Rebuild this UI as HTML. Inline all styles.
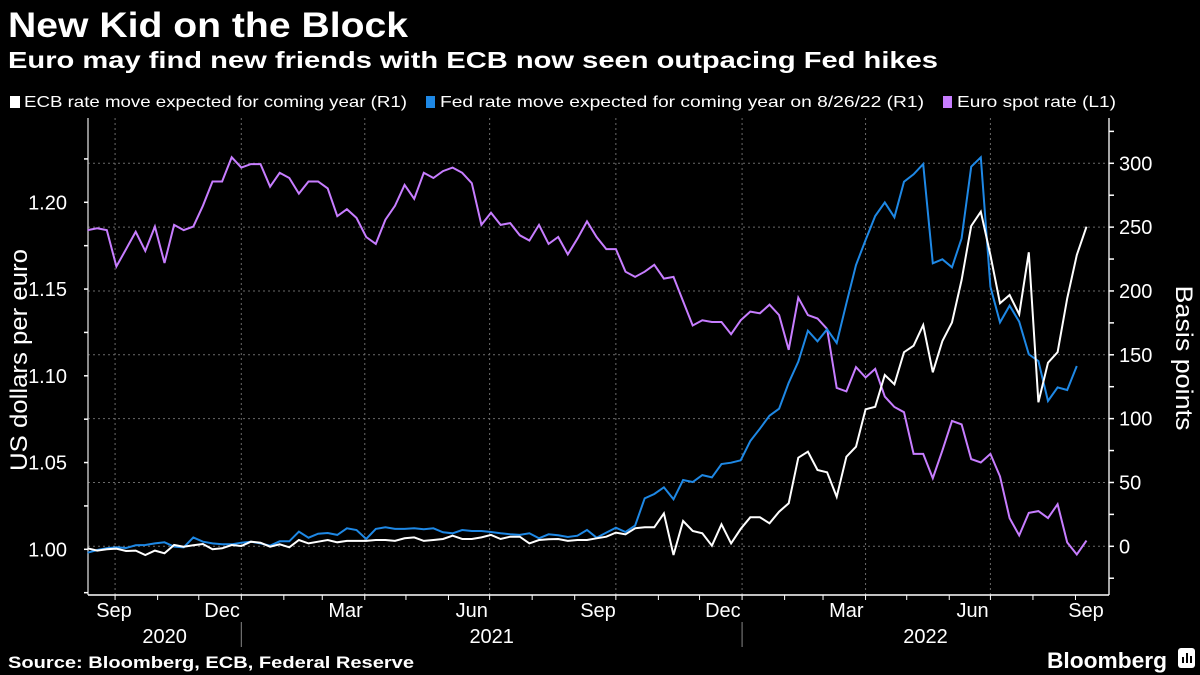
<!DOCTYPE html>
<html><head><meta charset="utf-8"><style>
html,body{margin:0;padding:0;background:#000;}
svg{display:block;font-family:"Liberation Sans",sans-serif;}
</style></head><body>
<svg id="chart" width="1200" height="675" viewBox="0 0 1200 675" xmlns="http://www.w3.org/2000/svg">
<rect width="1200" height="675" fill="#000"/>
<text x="8" y="37" fill="#fff" font-size="35" font-weight="bold" textLength="400" lengthAdjust="spacingAndGlyphs">New Kid on the Block</text>
<text x="8" y="68" fill="#fff" font-size="23" font-weight="bold" textLength="930" lengthAdjust="spacingAndGlyphs">Euro may find new friends with ECB now seen outpacing Fed hikes</text>
<g>
<g><rect x="10" y="96" width="10" height="12" fill="#fff"/><text x="24" y="107" fill="#fff" font-size="16" textLength="383" lengthAdjust="spacingAndGlyphs">ECB rate move expected for coming year (R1)</text></g>
<g><rect x="426" y="96" width="9" height="12" fill="#1e88e5"/><text x="440" y="107" fill="#fff" font-size="16" textLength="484" lengthAdjust="spacingAndGlyphs">Fed rate move expected for coming year on 8/26/22 (R1)</text></g>
<g><rect x="943" y="96" width="9" height="12" fill="#c77dff"/><text x="957" y="107" fill="#fff" font-size="16" textLength="159" lengthAdjust="spacingAndGlyphs">Euro spot rate (L1)</text></g>
</g>
<g id="grid"></g>
<g id="axes"></g>
<g id="series"></g>
<text transform="translate(27,360) rotate(-90)" text-anchor="middle" fill="#fff" font-size="24" textLength="222" lengthAdjust="spacingAndGlyphs">US dollars per euro</text>
<text transform="translate(1176,358) rotate(90)" text-anchor="middle" fill="#fff" font-size="24" textLength="145" lengthAdjust="spacingAndGlyphs">Basis points</text>
<text x="8" y="668" fill="#fff" font-size="17" font-weight="bold" textLength="406" lengthAdjust="spacingAndGlyphs">Source: Bloomberg, ECB, Federal Reserve</text>
<text x="1047" y="668" fill="#fff" font-size="22" font-weight="bold" textLength="120" lengthAdjust="spacingAndGlyphs">Bloomberg</text>
<g><rect x="1178" y="648" width="17" height="20" rx="3" fill="#fff"/><rect x="1182" y="657" width="2" height="6" fill="#000"/><rect x="1186" y="653" width="2" height="10" fill="#000"/><rect x="1190" y="656" width="2" height="7" fill="#000"/></g>
</svg>
<script>
const startDate = "2020-09-11";
const euroSpot = [1.184,1.185,1.184,1.163,1.173,1.183,1.172,1.186,1.165,1.187,1.184,1.186,1.198,1.212,1.212,1.226,1.220,1.222,1.222,1.209,1.217,1.214,1.205,1.212,1.212,1.208,1.192,
1.196,1.191,1.180,1.176,1.190,1.198,1.210,1.202,1.217,1.214,1.218,1.220,1.217,1.211,1.187,1.194,1.187,1.188,1.181,1.178,1.187,1.176,1.180,1.170,1.179,1.189,1.180,
1.173,1.173,1.160,1.157,1.160,1.164,1.156,1.157,1.143,1.129,1.132,1.131,1.131,1.124,1.132,1.137,1.136,1.141,1.135,1.115,1.145,1.135,1.133,1.127,1.093,1.091,
1.105,1.099,1.104,1.088,1.082,1.079,1.055,1.055,1.041,1.057,1.074,1.072,1.052,1.050,1.055,1.042,1.018,1.008,1.021,1.022,1.018,1.026,1.004,0.997,1.005];
const fedMove = [-5,-2.9,-1.6,-0.8,-1.3,0.8,1,2.3,3.1,-0.3,-0.8,7,3.6,2.3,1.6,1.6,2.8,3.6,2.3,0.5,3.9,3.9,11.4,6.7,9.9,10.4,8.9,
14.1,12.8,5.7,13.6,14.9,13.6,13.6,14.1,13.3,14.1,11,10.2,12.8,12,12,11.2,10.2,9.4,8.9,10.2,6.3,9.4,8.6,7.3,8.3,12.8,6.7,
10.7,14.6,11.2,16.2,37.6,41,46.2,36.8,51.9,50.4,55.8,54,64.5,65.5,67.4,82.5,92.1,102.3,107.8,128.1,144.6,168.9,160.6,170,159.2,190.3,
220.3,239.9,258.7,269.4,257.7,285.6,291.4,299.4,221.7,224.8,218.5,241.2,297.3,304.7,203.3,175.4,188.5,175.9,150.4,145.1,113.8,124.5,122.4,141.2];
const ecbMove = [-1.6,-3.4,-2.3,-1.8,-3.7,-3.4,-6.8,-3.4,-5.5,1,-0.3,0.8,1.8,-2.3,-1.6,1,0.2,3.6,2.8,-0.3,1.6,-0.8,4.9,2.3,3.6,4.9,3.1,
4.2,4.2,4.2,4.9,4.9,4.2,6.3,7,4.2,4.9,5.7,8.3,5.7,5.7,7,8.9,5.7,7.5,7.5,2.3,4.9,5.5,5.7,4.2,4.9,4.9,6.3,
7.5,10.7,9.4,14.1,14.9,14.9,25.8,-6.8,19.8,12,10.2,0.5,17.2,2.3,13.6,22.7,22.7,18,27.1,33.7,69.4,74.1,59.8,58,38.8,70.2,
78,107.3,109.3,134.2,126.9,152,157.1,173.3,136.3,160.8,175.4,208.6,250.9,262.1,228.2,190.3,196.8,181.7,230.3,112.8,143.8,152,194.2,228.2,250.3];
const leftTicks = [1.00,1.05,1.10,1.15,1.20];
const leftTickLabels = ["1.00","1.05","1.10","1.15","1.20"];
const rightTicks = [0,50,100,150,200,250,300];
const monthLabels = ["Sep","Dec","Mar","Jun","Sep","Dec","Mar","Jun","Sep"];
const monthLabelDates = ["2020-09","2020-12","2021-03","2021-06","2021-09","2021-12","2022-03","2022-06","2022-09"];
const years = ["2020","2021","2022"];

const NS="http://www.w3.org/2000/svg";
const X0=88, X1=1109, YT=118, YB=595;
const DAY=86400000, REF=Date.UTC(2021,0,1);
function xDate(ms){return 241.3+(ms-REF)/DAY*1.372;}
function parse(s){const p=s.split("-").map(Number);return Date.UTC(p[0],p[1]-1,p[2]||1);}
const start=parse(startDate);
function xIdx(i){return xDate(start+i*7*DAY);}
function yL(v){return 549.3-(v-1)*1735;}
function yR(v){return 546.3-v*1.2767;}
function mk(tag,attrs,parent){const e=document.createElementNS(NS,tag);for(const k in attrs)e.setAttribute(k,attrs[k]);parent.appendChild(e);return e;}
const grid=document.getElementById("grid"), axes=document.getElementById("axes"), series=document.getElementById("series");

rightTicks.forEach(v=>{
  const l=mk("line",{x1:X0,x2:X1,y1:yR(v),y2:yR(v),stroke:"#6a6a6a","stroke-width":1,"stroke-dasharray":"2,3"},grid);
  
  
});
// quarter gridlines and month ticks
for(let y=2020;y<=2022;y++){for(let m=0;m<12;m++){
  const ms=Date.UTC(y,m,1); const x=xDate(ms);
  if(x<=X0||x>=X1) continue;
  const t=mk("line",{x1:x,x2:x,y1:YB,y2:YB+5,stroke:"#fff","stroke-width":1},axes);
  
  
  if(m%3===0){
    const g=mk("line",{x1:x,x2:x,y1:YT,y2:YB,stroke:"#6a6a6a","stroke-width":1,"stroke-dasharray":"2,3"},grid);
    
    
  }
}}
// axes lines
const la=mk("line",{x1:X0,x2:X0,y1:YT,y2:YB,stroke:"#bbb","stroke-width":1.5},axes);


const ra=mk("line",{x1:X1,x2:X1,y1:YT,y2:YB,stroke:"#ddd","stroke-width":1.5},axes);


const ba=mk("line",{x1:X0,x2:X1,y1:YB,y2:YB,stroke:"#fff","stroke-width":1.5},axes);


// left ticks
for(let v=0.975;v<=1.2251;v+=0.025){
  const y=yL(v); const major=Math.abs((v*100)%5)<0.01||Math.abs((v*100)%5-5)<0.01;
  const t=mk("line",{x1:X0-4,x2:X0,y1:y,y2:y,stroke:"#fff","stroke-width":1.5},axes);
  
  
}
leftTicks.forEach((v,i)=>{
  const t=mk("text",{x:67,y:yL(v)+7,fill:"#fff","font-size":20,"text-anchor":"end"},axes);
  t.textContent=leftTickLabels[i];
  
  
});
for(let v=-25;v<=325;v+=25){
  const t=mk("line",{x1:X1,x2:X1+5,y1:yR(v),y2:yR(v),stroke:"#fff","stroke-width":1.5},axes);
  
  
}
rightTicks.forEach(v=>{
  const t=mk("text",{x:1119,y:yR(v)+7,fill:"#fff","font-size":20},axes);
  t.textContent=String(v);
  
  
});
monthLabels.forEach((s,i)=>{
  let x=xDate(parse(monthLabelDates[i]))+17*1.372;
  x=Math.max(114,Math.min(1086,x));
  const t=mk("text",{x:x,y:617,fill:"#fff","font-size":20,"text-anchor":"middle"},axes);
  t.textContent=s;
  
  
});
const yb=[X0,xDate(Date.UTC(2021,0,1)),xDate(Date.UTC(2022,0,1)),X1];
years.forEach((s,i)=>{
  const t=mk("text",{x:(yb[i]+yb[i+1])/2,y:643,fill:"#fff","font-size":20,"text-anchor":"middle"},axes);
  t.textContent=s;
  
  
  if(i>0){
    const l=mk("line",{x1:yb[i],x2:yb[i],y1:622,y2:647,stroke:"#888","stroke-width":1},axes);
    
    
  }
});
function line(arr,yf,color,name){
  const pts=arr.map((v,i)=>xIdx(i).toFixed(1)+","+yf(v).toFixed(1)).join(" ");
  const p=mk("polyline",{points:pts,fill:"none",stroke:color,"stroke-width":2,"stroke-linejoin":"miter"},series);
  
  
}
line(euroSpot,yL,"#c77dff","euro-spot-line");
line(fedMove,yR,"#1e88e5","fed-rate-line");
line(ecbMove,yR,"#ffffff","ecb-rate-line");
</script>
</body></html>
